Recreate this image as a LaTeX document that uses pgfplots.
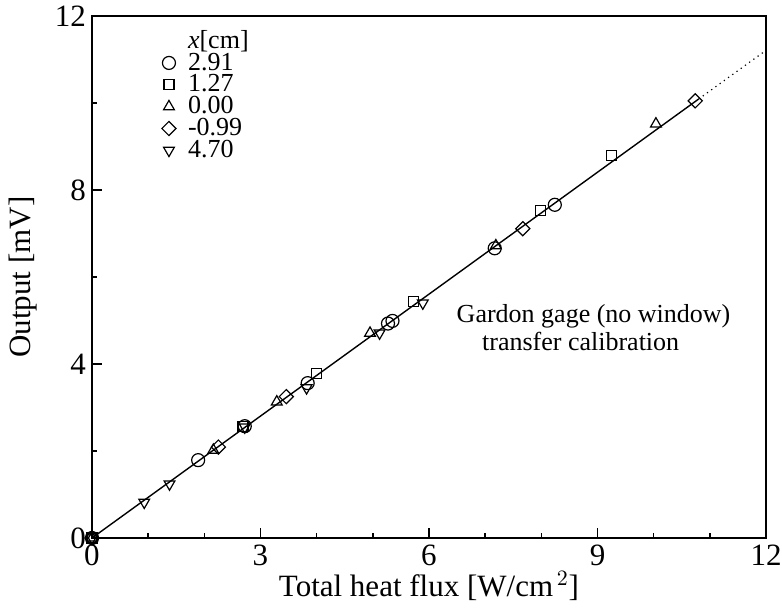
\documentclass[border=0pt]{standalone}
\usepackage{pgfplots}
\pgfplotsset{compat=1.18}
\usepackage{fontspec}
\setmainfont{Liberation Serif}

\begin{document}
\begin{tikzpicture}[font=\fontsize{13}{15}\selectfont]
\path[use as bounding box] (-46pt,-38.5pt) rectangle (345pt,269pt);
\begin{axis}[
	width=337pt, height=261pt, scale only axis,
	xmin=0, xmax=12, ymin=0, ymax=12,
	xtick={0,3,6,9,12}, ytick={0,4,8,12},
	minor xtick={1,2,4,5,7,8,10,11},
	minor ytick={2,6,10},
	xtick pos=bottom, ytick pos=left,
	tick align=inside,
	major tick length=5pt, minor tick length=2.5pt,
	axis line style={line width=0.8pt},
	every tick/.style={black, line width=0.7pt},
	/pgf/number format/assume math mode=true,
	tick label style={font=\fontsize{15.5}{17}\selectfont},
	yticklabel style={xshift=0.5pt},
	xlabel={Total heat flux [W/cm$^{\,2}$]},
	ylabel={Output [mV]},
	every axis x label/.style={at={([yshift=-24pt]axis description cs:0.5,0)}, anchor=center,
		inner sep=1pt, font=\fontsize{15.5}{17}\selectfont},
	every axis y label/.style={at={([xshift=-34.5pt]axis description cs:0,0.5)}, anchor=center, rotate=90,
		inner sep=1pt, font=\fontsize{15.5}{17}\selectfont},
	legend style={draw=none, fill=none, at={(axis description cs:0,1)}, anchor=north west,
		xshift=26.75pt, yshift=-4.5pt, row sep=0pt, font=\fontsize{13}{15}\selectfont,
		nodes={inner ysep=0.4pt},
		/tikz/every odd column/.append style={column sep=4pt}},
	legend cell align=left,
]
\addlegendimage{empty legend}
\addlegendentry{\textit{x}[cm]}

% x = 2.91 cm
\addplot[only marks, mark=o, mark size=3.25pt, mark options={line width=0.6pt}] coordinates {
	(0,0) (1.89,1.79) (2.72,2.57) (3.84,3.56) (5.27,4.93) (5.35,4.99) (7.17,6.66) (8.24,7.66)
};
\addlegendentry{2.91}

% x = 1.27 cm
\addplot[only marks, mark=square, mark size=2.5pt, mark options={line width=0.6pt}] coordinates {
	(0,0) (2.69,2.57) (4.00,3.79) (5.72,5.43) (7.99,7.52) (9.25,8.80)
};
\addlegendentry{1.27}

% x = 0.00 cm
\addplot[only marks, mark=triangle, mark size=3.1pt, mark options={line width=0.6pt}] coordinates {
	(0,0) (2.16,2.02) (3.29,3.13) (4.95,4.71) (7.19,6.72) (10.04,9.52)
};
\addlegendentry{0.00}

% x = -0.99 cm
\addplot[only marks, mark=square, mark size=2.5pt, mark options={line width=0.6pt, rotate=45}] coordinates {
	(0,0) (2.25,2.09) (3.46,3.25) (7.67,7.11) (10.74,10.05)
};
\addlegendentry{-0.99}

% x = 4.70 cm
\addplot[only marks, mark=triangle, mark size=3.1pt, mark options={line width=0.6pt, rotate=180}] coordinates {
	(0,0) (0.93,0.82) (1.38,1.24) (2.72,2.55) (3.82,3.45) (5.12,4.71) (5.89,5.40)
};
\addlegendentry{4.70}

% calibration line
\addplot[black, line width=0.7pt, forget plot] coordinates {(0,0) (10.8,10.09)};
\addplot[black, line width=0.6pt, dotted, forget plot] coordinates {(10.8,10.09) (12,11.21)};

\node at (axis cs:8.93,5.10) {Gardon gage (no window)};
\node at (axis cs:8.70,4.51) {transfer calibration};
\end{axis}
\end{tikzpicture}
\end{document}
